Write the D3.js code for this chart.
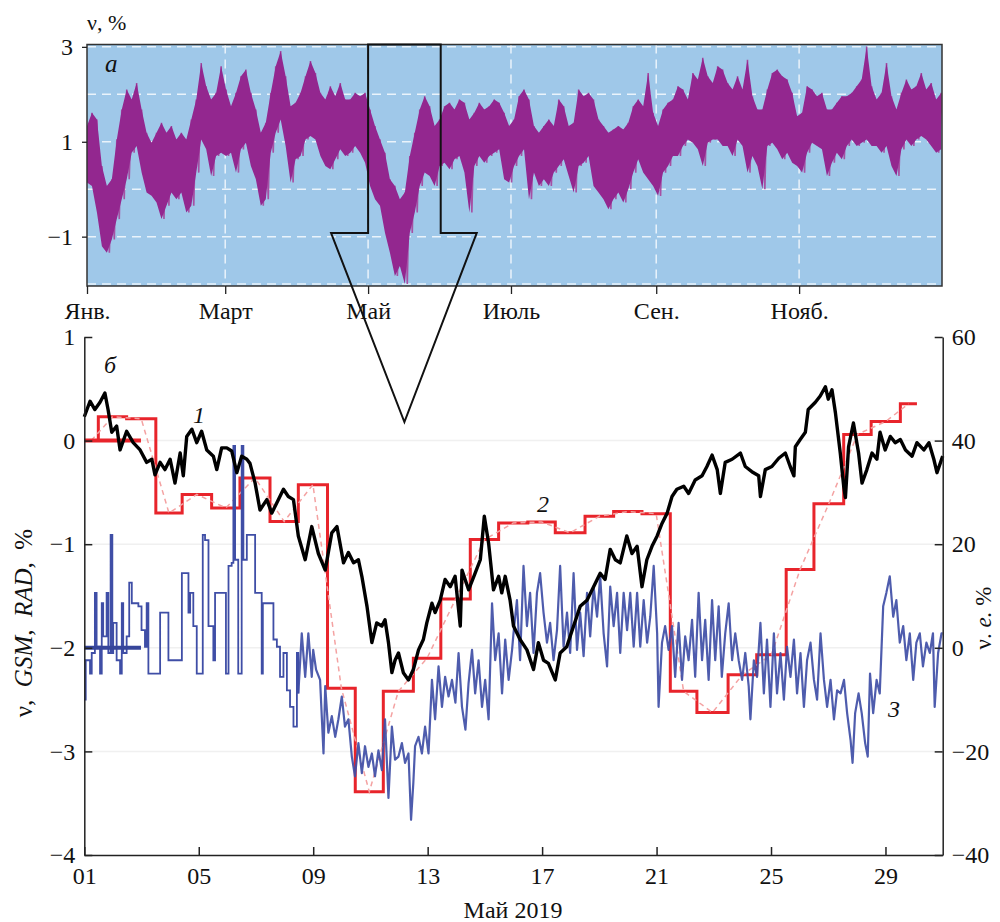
<!DOCTYPE html>
<html>
<head>
<meta charset="utf-8">
<script src="https://cdn.jsdelivr.net/npm/d3@7"></script>
<style>
body { margin: 0; background: #fff; }
svg, svg text { font-family: "Liberation Serif", Tinos, "DejaVu Serif", "Noto Serif", "Times New Roman", serif !important; }
svg text { fill: #111; }
</style>
</head>
<body>
<div id="chart"></div>
<script>
// ---- panel a : whole year 2019, band of the hourly values (upper / lower edge) ----
var topSampleDays = 2.12;
var topHi = [1.33,1.61,1.47,0.49,0.07,0.21,1.05,1.68,2.10,1.89,2.24,1.68,1.19,0.98,1.19,1.40,1.19,1.33,1.05,1.19,
  1.05,1.47,1.89,2.66,2.17,1.89,2.03,2.59,2.10,1.75,2.03,2.38,2.52,2.03,1.68,1.19,1.40,2.03,2.59,2.91,
  2.38,1.75,1.82,2.03,2.38,2.70,2.45,2.03,1.89,2.17,1.96,2.24,1.89,1.89,2.03,1.96,2.03,1.68,1.33,1.05,
  0.77,0.21,0.07,-0.21,-0.07,0.70,1.19,1.68,1.96,1.75,1.33,1.47,1.75,1.82,1.68,1.89,1.82,1.47,1.61,1.82,
  1.68,1.75,1.89,1.82,1.61,1.33,1.47,1.96,2.10,1.89,1.33,1.19,1.33,1.47,1.33,1.89,1.75,1.33,1.40,2.10,
  1.96,2.03,1.89,1.47,1.33,1.19,1.26,1.33,1.26,1.40,1.75,1.89,1.75,2.45,1.61,1.33,1.68,1.82,1.89,2.17,
  2.10,1.89,2.45,2.31,2.77,2.38,2.24,2.59,2.52,2.24,2.10,2.38,2.10,2.73,1.96,1.68,1.68,2.10,2.45,2.52,
  2.38,2.31,2.03,1.54,1.61,2.17,2.10,1.96,2.03,1.68,1.68,1.82,1.96,1.96,2.03,2.17,2.31,3.01,2.17,1.89,
  2.03,2.66,1.96,1.68,2.03,2.31,2.10,2.17,2.45,2.10,2.24,1.89,2.03];
var topLo = [0.14,0.07,-0.49,-1.20,-1.34,-1.06,-0.63,-0.21,0.21,0.77,0.91,0.35,-0.07,-0.14,-0.28,-0.63,-0.35,-0.07,-0.21,-0.07,
  -0.49,-0.35,0.35,1.05,0.84,0.28,0.70,0.77,0.70,0.77,0.35,0.84,0.98,0.49,0.21,-0.35,-0.21,0.77,1.19,1.47,
  0.91,0.14,0.63,0.70,1.05,1.12,1.05,0.70,0.49,0.42,0.63,0.84,0.70,0.77,0.91,0.77,0.56,0.07,-0.21,-0.35,
  -0.92,-1.34,-1.83,-1.62,-2.00,-0.92,-0.49,0.07,0.35,0.28,0.07,0.49,0.56,0.42,0.63,0.70,0.35,-0.49,0.49,0.70,
  0.56,0.70,0.77,0.84,0.21,0.14,0.49,0.70,0.84,-0.21,0.35,0.07,0.21,0.07,0.35,0.49,0.63,0.28,-0.07,0.49,
  0.56,0.70,0.07,-0.07,-0.21,-0.42,-0.21,-0.07,-0.28,0.00,0.35,0.63,0.35,0.21,0.07,-0.14,0.35,0.49,0.70,0.70,
  0.91,1.05,0.98,0.84,0.49,0.98,1.05,1.05,0.91,0.91,0.70,1.05,0.91,0.35,0.70,0.49,0.00,0.91,0.98,0.84,
  0.63,0.77,0.56,0.49,0.35,0.77,0.98,0.91,0.84,0.28,0.56,0.77,0.63,0.91,1.05,0.91,0.98,1.05,0.91,0.91,
  0.77,0.91,0.49,0.28,0.84,1.05,0.91,1.05,1.12,1.05,0.91,0.77,0.84];
var monthLabels = ["Янв.", "Март", "Май", "Июль", "Сен.", "Нояб."];
var monthIndex = [0, 2, 4, 6, 8, 10];
var topTicks = [3, 1, -1];
var topGrid = [3, 2, 1, 0, -1, -2];

// ---- panel b : May 2019, [day offset from 1 May, value] ----
// 1: GSM (left axis)
var gsm = [[0,0.23],[0.2,0.38],[0.37,0.30],[0.55,0.37],[0.72,0.46],[0.83,0.30],[0.96,0.08],[1.13,0.14],[1.25,-0.09],[1.48,0.09],
  [1.71,-0.02],[1.95,-0.09],[2.18,-0.21],[2.36,-0.18],[2.47,-0.33],[2.65,-0.21],[2.82,-0.28],[3.0,-0.18],[3.17,-0.41],[3.35,-0.12],
  [3.46,-0.34],[3.58,0.04],[3.76,0.11],[3.93,-0.02],[4.1,0.09],[4.28,-0.09],[4.51,-0.15],[4.63,-0.28],[4.8,-0.07],[4.98,-0.07],
  [5.15,-0.10],[5.33,-0.31],[5.5,-0.15],[5.68,-0.18],[5.79,-0.22],[5.97,-0.41],[6.14,-0.67],[6.38,-0.57],[6.55,-0.70],[6.73,-0.6],
  [6.96,-0.47],[7.13,-0.54],[7.31,-0.57],[7.48,-0.92],[7.72,-1.15],[7.95,-0.83],[8.18,-1.09],[8.42,-1.25],[8.65,-0.89],[8.83,-0.83],
  [9.06,-1.18],[9.23,-1.08],[9.41,-1.18],[9.58,-1.15],[9.7,-1.31],[9.88,-1.60],[10.05,-1.95],[10.22,-1.76],[10.4,-1.79],[10.51,-1.73],
  [10.63,-1.95],[10.75,-2.24],[10.86,-2.12],[10.98,-2.05],[11.15,-2.24],[11.33,-2.31],[11.5,-2.21],[11.68,-2.02],[11.85,-1.92],[11.97,-1.76],
  [12.15,-1.57],[12.26,-1.66],[12.44,-1.54],[12.61,-1.34],[12.79,-1.41],[12.96,-1.31],[13.14,-1.79],[13.2,-1.25],[13.43,-1.44],[13.66,-1.28],
  [13.84,-1.15],[13.98,-0.73],[14.13,-0.99],[14.3,-1.44],[14.48,-1.31],[14.59,-1.47],[14.71,-1.31],[14.88,-1.54],[15.0,-1.79],[15.23,-1.92],
  [15.47,-2.02],[15.7,-2.21],[15.87,-1.95],[16.05,-2.12],[16.22,-2.15],[16.46,-2.31],[16.63,-2.05],[16.86,-1.99],[17.1,-1.79],[17.33,-1.60],
  [17.57,-1.54],[17.8,-1.41],[18.03,-1.28],[18.2,-1.34],[18.38,-1.05],[18.56,-1.15],[18.73,-1.18],[18.96,-0.92],[19.14,-1.09],[19.32,-1.02],
  [19.49,-1.41],[19.66,-1.15],[19.84,-1.02],[20.02,-0.92],[20.19,-0.80],[20.37,-0.70],[20.54,-0.54],[20.71,-0.47],[20.95,-0.44],[21.12,-0.51],
  [21.35,-0.38],[21.59,-0.34],[21.76,-0.25],[21.94,-0.14],[22.12,-0.28],[22.23,-0.51],[22.4,-0.21],[22.64,-0.18],[22.93,-0.12],[23.1,-0.25],
  [23.33,-0.30],[23.57,-0.34],[23.63,-0.54],[23.8,-0.28],[24.03,-0.25],[24.27,-0.17],[24.5,-0.12],[24.67,-0.25],[24.8,-0.34],[24.85,-0.06],
  [25.02,0.01],[25.2,0.08],[25.3,0.30],[25.55,0.37],[25.72,0.43],[25.9,0.52],[26.0,0.40],[26.13,0.49],[26.25,0.27],[26.42,-0.12],
  [26.54,-0.44],[26.6,-0.55],[26.71,-0.06],[26.88,0.17],[27.06,-0.12],[27.18,-0.41],[27.35,-0.28],[27.53,-0.12],[27.7,-0.18],[27.81,0.08],
  [27.99,-0.09],[28.17,0.04],[28.34,-0.02],[28.52,0.01],[28.7,-0.09],[28.93,-0.15],[29.1,-0.02],[29.34,-0.09],[29.52,-0.02],[29.69,-0.18],
  [29.8,-0.31],[30.0,-0.15]];

// 3: RAD (left axis); hourly steps in the first week, dense noise afterwards
var radSteps = [[0,-2.5],[0.05,-2.12],[0.2,-2.25],[0.26,-2.05],[0.37,-1.47],[0.43,-1.99],[0.55,-2.25],[0.61,-1.57],[0.66,-1.89],[0.78,-1.47],
  [0.84,-2.05],[0.92,-0.91],[0.98,-2.05],[1.01,-1.76],[1.13,-2.12],[1.25,-2.25],[1.31,-1.57],[1.36,-2.05],[1.48,-1.89],[1.57,-1.37],
  [1.66,-1.57],[1.89,-1.6],[2.0,-1.83],[2.12,-1.99],[2.18,-1.57],[2.24,-2.25],[2.65,-1.66],[2.94,-2.12],[3.41,-1.28],[3.64,-1.66],
  [3.70,-1.47],[3.81,-1.79],[3.93,-2.25],[4.14,-0.91],[4.22,-0.96],[4.34,-1.79],[4.51,-2.12],[4.57,-1.47],[4.95,-2.25],[5.04,-1.21],
  [5.15,-1.18],[5.21,-0.05],[5.27,-1.15],[5.38,-2.25],[5.5,-0.05],[5.56,-1.15],[5.68,-0.91],[5.97,-1.47],[6.2,-2.25],[6.24,-1.57],
  [6.61,-1.92],[6.73,-1.99],[6.84,-2.28],[6.96,-2.05],[7.08,-2.41],[7.19,-2.57],[7.31,-2.76],[7.43,-2.05],[7.48,-2.44]];
var radNoise = [[7.48,-2.44],[7.6,-1.86],[7.72,-2.28],[7.83,-1.86],[7.95,-2.28],[8.0,-2.02],[8.1,-2.21],[8.24,-2.31],[8.36,-3.02],[8.42,-2.37],
  [8.53,-2.82],[8.65,-2.66],[8.77,-2.86],[8.88,-2.69],[9.0,-2.47],[9.11,-2.76],[9.23,-2.69],[9.35,-3.05],[9.46,-3.24],[9.58,-2.92],
  [9.7,-3.21],[9.81,-2.95],[9.93,-3.15],[10.05,-3.02],[10.16,-3.24],[10.28,-2.99],[10.4,-3.18],[10.51,-2.69],[10.63,-3.45],[10.75,-2.76],
  [10.86,-3.08],[10.98,-3.05],[11.1,-2.92],[11.21,-3.11],[11.33,-3.02],[11.42,-3.66],[11.5,-3.3],[11.56,-2.95],[11.68,-2.86],[11.8,-3.02],
  [11.91,-2.76],[12.03,-3.02],[12.15,-2.31],[12.26,-2.69],[12.38,-2.18],[12.5,-2.57],[12.61,-2.28],[12.73,-2.47],[12.85,-2.31],[12.97,-2.53],
  [13.08,-2.05],[13.2,-2.57],[13.32,-2.79],[13.43,-2.34],[13.55,-2.02],[13.66,-2.44],[13.78,-2.12],[13.9,-2.57],[14.01,-2.31],[14.13,-2.69],
  [14.25,-1.57],[14.36,-2.12],[14.48,-1.86],[14.6,-2.44],[14.71,-1.92],[14.83,-2.31],[14.95,-2.02],[15.0,-1.86],[15.12,-1.54],[15.23,-2.12],
  [15.35,-1.21],[15.47,-1.79],[15.58,-1.47],[15.7,-2.05],[15.82,-1.47],[15.93,-1.28],[16.05,-1.66],[16.17,-1.95],[16.28,-1.76],[16.4,-2.12],
  [16.52,-1.83],[16.63,-1.21],[16.75,-1.99],[16.87,-1.66],[16.98,-2.05],[17.1,-1.28],[17.22,-2.02],[17.33,-1.66],[17.45,-2.08],[17.57,-1.47],
  [17.68,-1.89],[17.8,-1.41],[17.92,-1.70],[18.03,-1.31],[18.15,-1.86],[18.27,-2.18],[18.38,-1.41],[18.5,-1.79],[18.62,-1.47],[18.73,-2.05],
  [18.85,-1.47],[18.97,-1.83],[19.08,-1.47],[19.2,-1.99],[19.32,-1.47],[19.43,-1.99],[19.55,-1.54],[19.67,-1.95],[19.78,-1.70],[19.9,-1.21],
  [20.02,-1.86],[20.07,-2.57],[20.19,-1.95],[20.3,-1.79],[20.42,-2.02],[20.54,-1.79],[20.65,-2.28],[20.77,-1.76],[20.89,-2.31],[21.0,-1.89],
  [21.12,-2.12],[21.24,-1.73],[21.35,-2.28],[21.47,-1.47],[21.59,-2.12],[21.7,-1.73],[21.82,-2.31],[21.94,-1.54],[22.05,-2.12],[22.17,-1.60],
  [22.28,-2.28],[22.4,-1.86],[22.52,-1.57],[22.64,-2.12],[22.75,-1.86],[22.87,-2.12],[22.99,-2.31],[23.1,-2.05],[23.22,-2.37],[23.28,-2.69],
  [23.4,-2.12],[23.51,-2.28],[23.63,-1.76],[23.75,-2.44],[23.86,-1.92],[23.98,-2.57],[24.1,-1.86],[24.21,-2.44],[24.33,-2.05],[24.45,-2.50],
  [24.56,-1.99],[24.68,-2.28],[24.8,-1.92],[24.91,-2.44],[25.03,-2.05],[25.15,-2.57],[25.26,-2.12],[25.38,-1.95],[25.5,-2.31],[25.61,-2.50],
  [25.73,-1.86],[25.85,-2.31],[25.96,-2.57],[26.08,-2.31],[26.2,-2.69],[26.31,-2.41],[26.43,-2.44],[26.55,-2.31],[26.66,-2.63],[26.78,-2.89],
  [26.85,-3.11],[26.94,-2.63],[27.06,-2.44],[27.17,-2.63],[27.29,-2.92],[27.38,-3.05],[27.46,-2.25],[27.57,-2.63],[27.69,-2.31],[27.8,-2.44],
  [27.92,-1.60],[28.03,-1.47],[28.15,-1.31],[28.27,-1.70],[28.38,-1.54],[28.5,-1.95],[28.62,-1.79],[28.73,-2.12],[28.85,-1.86],[28.97,-2.31],
  [29.08,-1.95],[29.2,-1.86],[29.31,-2.18],[29.43,-1.95],[29.55,-2.05],[29.66,-1.86],[29.72,-2.57],[29.84,-2.05],[29.96,-1.86],[30.0,-1.86]];

// 2: daily values (right axis), start of each step
var veDay = [0,0.49,1.48,2.5,3.42,4.45,5.44,6.49,7.48,8.5,9.47,10.45,11.5,12.46,13.49,14.48,15.5,16.46,17.5,18.5,
  19.49,20.48,21.41,22.5,23.5,24.53,25.5,26.54,27.5,28.52,29.1];
var veVal = [40,44.6,44.2,26.0,29.6,27.0,32.8,24.4,31.5,-7.8,-27.8,-8.4,-2.0,9.4,20.9,24.1,24.3,22.2,25.4,26.3,
  25.9,-8.4,-12.5,-5.2,-1.35,15.1,27.8,41.2,43.7,47.1,47.1];
// gap filler at the start of the month
var gapEnd = 1.98, gapRad = -2.0, gapVe = 40;

var dayTicks = [1, 5, 9, 13, 17, 21, 25, 29];
var leftTicks = [1, 0, -1, -2, -3, -4];
var rightTicks = [60, 40, 20, 0, -20, -40];

var FONT = '"Liberation Serif", Tinos, "DejaVu Serif", "Noto Serif", serif';

var svg = d3.select("#chart").append("svg")
    .attr("width", 1000)
    .attr("height", 922)
    .attr("font-family", FONT);

// ================= panel a =================
var yearStart = new Date(2019, 0, 1);
var topX = d3.scaleTime().domain([yearStart, new Date(2020, 0, 1)]).range([87, 942]);
var topY = d3.scaleLinear().domain([-2.04, 3.05]).range([286, 44.5]);

function yearDate(d) { return new Date(yearStart.getTime() + d * 864e5); }

svg.append("clipPath").attr("id", "topclip")
    .append("rect").attr("x", 87).attr("y", 44.5).attr("width", 855).attr("height", 241.5);

svg.append("rect")
    .attr("x", 87).attr("y", 44.5).attr("width", 855).attr("height", 241.5)
    .attr("fill", "#9fc8e9");

var gTop = svg.append("g").attr("clip-path", "url(#topclip)");

gTop.selectAll(".hgrid").data(topGrid).enter().append("line")
    .attr("x1", 87).attr("x2", 942)
    .attr("y1", function (d) { return topY(d); })
    .attr("y2", function (d) { return topY(d); })
    .attr("stroke", "#eaf3fb").attr("stroke-width", 1.5).attr("stroke-dasharray", "9,6");

gTop.selectAll(".vgrid").data(monthIndex.slice(1)).enter().append("line")
    .attr("x1", function (m) { return topX(new Date(2019, m, 1)); })
    .attr("x2", function (m) { return topX(new Date(2019, m, 1)); })
    .attr("y1", 44.5).attr("y2", 286)
    .attr("stroke", "#eaf3fb").attr("stroke-width", 1.5).attr("stroke-dasharray", "9,6");

var band = topHi.map(function (h, i) { return { day: i * topSampleDays, hi: h, lo: topLo[i] }; });

// zig-zag through the edges first (lighter fringe), solid band on top
var zig = [];
band.forEach(function (d) {
    zig.push([d.day, d.hi]);
    zig.push([d.day + topSampleDays / 2, d.lo]);
});
gTop.append("path")
    .datum(zig)
    .attr("fill", "none")
    .attr("stroke", "#a650a4")
    .attr("stroke-width", 1.6)
    .attr("d", d3.line()
        .x(function (d) { return topX(yearDate(d[0])); })
        .y(function (d) { return topY(d[1]); }));

gTop.append("path")
    .datum(band)
    .attr("fill", "#93278f")
    .attr("d", d3.area()
        .x(function (d) { return topX(yearDate(d.day)); })
        .y0(function (d) { return topY(d.lo); })
        .y1(function (d) { return topY(d.hi); }));

svg.append("rect")
    .attr("x", 87).attr("y", 44.5).attr("width", 855).attr("height", 241.5)
    .attr("fill", "none").attr("stroke", "#333").attr("stroke-width", 1.5);

var topLeft = svg.append("g")
    .attr("transform", "translate(87,0)")
    .call(d3.axisLeft(topY).tickValues(topTicks).tickSize(5).tickPadding(9).tickFormat(d3.format("d")));
topLeft.select(".domain").remove();

var topBottom = svg.append("g")
    .attr("transform", "translate(0,286)")
    .call(d3.axisBottom(topX)
        .tickValues(monthIndex.map(function (m) { return new Date(2019, m, 1); }))
        .tickFormat(function (d, i) { return monthLabels[i]; })
        .tickSize(8).tickPadding(8));
topBottom.select(".domain").remove();
[topLeft, topBottom].forEach(function (a) {
    a.attr("font-family", FONT);
    a.selectAll("text").attr("font-size", 24);
    a.selectAll("line").attr("stroke", "#222").attr("stroke-width", 1.3);
});

svg.append("text").attr("x", 87).attr("y", 30).attr("font-size", 22).text("ν, %");
svg.append("text").attr("x", 105).attr("y", 72).attr("font-size", 25).attr("font-style", "italic").text("а");

// ================= panel b =================
var mayStart = new Date(2019, 4, 1);
function mayDate(d) { return new Date(mayStart.getTime() + d * 864e5); }

var x = d3.scaleTime().domain([mayStart, new Date(2019, 4, 31)]).range([84.3, 942.7]);
var yL = d3.scaleLinear().domain([-4, 1]).range([855, 337]);
var yR = d3.scaleLinear().domain([-40, 60]).range([855, 337]);

// faint grid
svg.selectAll(".bgrid").data([0, -1, -2, -3]).enter().append("line")
    .attr("x1", 86).attr("x2", 941)
    .attr("y1", function (d) { return yL(d); })
    .attr("y2", function (d) { return yL(d); })
    .attr("stroke", "#f0f0f0").attr("stroke-width", 1.5);

var steps = veDay.map(function (d, i) { return [d, veVal[i]]; });
var centers = [];
for (var i = 0; i < steps.length - 1; i++) {
    centers.push([(steps[i][0] + steps[i + 1][0]) / 2, steps[i][1]]);
}

// curve 2 : steps + dashed line through the day centres
svg.append("path")
    .datum(steps)
    .attr("fill", "none")
    .attr("stroke", "#e8242b")
    .attr("stroke-width", 3)
    .attr("d", d3.line().curve(d3.curveStepAfter)
        .x(function (d) { return x(mayDate(d[0])); })
        .y(function (d) { return yR(d[1]); }));

svg.append("path")
    .datum(centers)
    .attr("fill", "none")
    .attr("stroke", "#f4a2a2")
    .attr("stroke-width", 1.5)
    .attr("stroke-dasharray", "5,4")
    .attr("d", d3.line()
        .x(function (d) { return x(mayDate(d[0])); })
        .y(function (d) { return yR(d[1]); }));

svg.append("line")
    .attr("x1", x(mayDate(0))).attr("x2", x(mayDate(gapEnd)))
    .attr("y1", yR(gapVe)).attr("y2", yR(gapVe))
    .attr("stroke", "#e8242b").attr("stroke-width", 4);

// curve 3
svg.append("path")
    .datum(radSteps)
    .attr("fill", "none")
    .attr("stroke", "#3f4ea6")
    .attr("stroke-width", 1.8)
    .attr("d", d3.line().curve(d3.curveStepAfter)
        .x(function (d) { return x(mayDate(d[0])); })
        .y(function (d) { return yL(d[1]); }));

svg.append("path")
    .datum(radNoise)
    .attr("fill", "none")
    .attr("stroke", "#3f4ea6")
    .attr("stroke-width", 2.2)
    .attr("stroke-linejoin", "round")
    .attr("stroke-opacity", 0.92)
    .attr("d", d3.line()
        .x(function (d) { return x(mayDate(d[0])); })
        .y(function (d) { return yL(d[1]); }));

svg.append("line")
    .attr("x1", x(mayDate(0))).attr("x2", x(mayDate(gapEnd)))
    .attr("y1", yL(gapRad)).attr("y2", yL(gapRad))
    .attr("stroke", "#36459a").attr("stroke-width", 4);

// curve 1
svg.append("path")
    .datum(gsm)
    .attr("fill", "none")
    .attr("stroke", "#000")
    .attr("stroke-width", 3.4)
    .attr("stroke-linejoin", "round")
    .attr("d", d3.line()
        .x(function (d) { return x(mayDate(d[0])); })
        .y(function (d) { return yL(d[1]); }));

// axes
var axL = svg.append("g").attr("transform", "translate(84.3,0)")
    .call(d3.axisLeft(yL).tickValues(leftTicks).tickSizeInner(-8).tickSizeOuter(0).tickPadding(9)
        .tickFormat(d3.format("d")));
var axR = svg.append("g").attr("transform", "translate(942.7,0)")
    .call(d3.axisRight(yR).tickValues(rightTicks).tickSizeInner(-8).tickSizeOuter(0).tickPadding(9)
        .tickFormat(d3.format("d")));
var axB = svg.append("g").attr("transform", "translate(0,855)")
    .call(d3.axisBottom(x)
        .tickValues(dayTicks.map(function (d) { return new Date(2019, 4, d); }))
        .tickFormat(d3.timeFormat("%d"))
        .tickSizeInner(-8).tickSizeOuter(0).tickPadding(12));
[axL, axR, axB].forEach(function (a) {
    a.attr("font-family", FONT);
    a.selectAll("text").attr("font-size", 24);
    a.selectAll("line, path").attr("stroke", "#222").attr("stroke-width", 1.5);
});

svg.append("text").attr("x", 513).attr("y", 918).attr("text-anchor", "middle")
    .attr("font-size", 24).text("Май 2019");

var lt = svg.append("text")
    .attr("transform", "translate(32,623) rotate(-90)")
    .attr("text-anchor", "middle").attr("font-size", 25)
    .style("white-space", "pre");
lt.append("tspan").text("ν,  ");
lt.append("tspan").attr("font-style", "italic").text("GSM");
lt.append("tspan").text(",  ");
lt.append("tspan").attr("font-style", "italic").text("RAD");
lt.append("tspan").text(",  %");

var rt = svg.append("text")
    .attr("transform", "translate(991,618) rotate(-90)")
    .attr("text-anchor", "middle").attr("font-size", 23)
    .style("white-space", "pre");
rt.append("tspan").text("ν. ");
rt.append("tspan").attr("font-style", "italic").text("е.");
rt.append("tspan").text(" %");

svg.append("text").attr("x", 104).attr("y", 373).attr("font-size", 24).attr("font-style", "italic").text("б");
svg.append("text").attr("x", 193).attr("y", 423).attr("font-size", 24).attr("font-style", "italic").text("1");
svg.append("text").attr("x", 537).attr("y", 512).attr("font-size", 24).attr("font-style", "italic").text("2");
svg.append("text").attr("x", 888).attr("y", 717).attr("font-size", 24).attr("font-style", "italic").text("3");

// ================= arrow from May in panel a down to panel b =================
var ax0 = topX(new Date(2019, 4, 1)), ax1 = topX(new Date(2019, 5, 1));
var arrow = [[ax0, 44.5], [ax1, 44.5], [ax1, 233], [ax1 + 36, 233],
    [(ax0 + ax1) / 2, 422], [ax0 - 37, 233], [ax0, 233]];
svg.append("path")
    .attr("d", d3.line()(arrow) + "Z")
    .attr("fill", "none")
    .attr("stroke", "#111")
    .attr("stroke-width", 2);
</script>
</body>
</html>
